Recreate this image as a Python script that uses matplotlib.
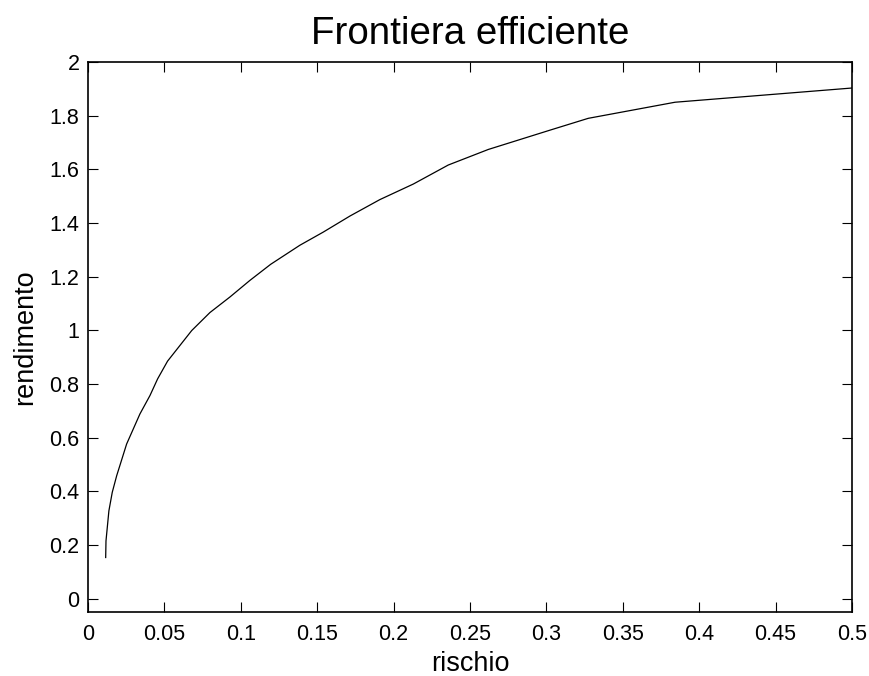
import matplotlib
matplotlib.use("Agg")
import matplotlib.pyplot as plt
import numpy as np

# punti della frontiera efficiente (rischio, rendimento)
rischio = [0.0116, 0.0118, 0.0137, 0.0159, 0.0188, 0.0253, 0.0340, 0.0406,
           0.0456, 0.0521, 0.0679, 0.0798, 0.0929, 0.1060, 0.1196, 0.1387,
           0.1540, 0.1715, 0.1910, 0.2129, 0.2358, 0.2620, 0.3024, 0.3274,
           0.3842, 0.5000]
rendimento = [0.153, 0.215, 0.327, 0.396, 0.458, 0.576, 0.688, 0.757,
              0.819, 0.885, 0.999, 1.066, 1.124, 1.186, 1.246, 1.317,
              1.366, 1.426, 1.487, 1.545, 1.616, 1.674, 1.746, 1.790,
              1.850, 1.903]

xticks = np.arange(0, 0.501, 0.05)
yticks = np.arange(0, 2.001, 0.2)

plt.rcParams['font.family'] = ['Liberation Sans', 'DejaVu Sans']

fig = plt.figure(figsize=(8.7, 6.76), dpi=100)
ax = fig.add_axes([0.1011, 0.0947, 0.8782, 0.8136])

ax.plot(rischio, rendimento, color="black", linewidth=0.9)

ax.set_xlim(0, 0.5)
ax.set_ylim(-0.05, 2)
ax.set_xticks(xticks)
ax.set_yticks(yticks)
ax.set_xticklabels(["%g" % round(v, 2) for v in xticks])
ax.set_yticklabels(["%g" % round(v, 1) for v in yticks])
ax.tick_params(axis="both", direction="in", length=7, width=0.8, labelsize=15.5,
               top=True, right=True)
ax.tick_params(axis="x", pad=9)
ax.tick_params(axis="y", pad=6)
for s in ax.spines.values():
    s.set_linewidth(1.2)

ax.set_xlabel("rischio", fontsize=19.5, labelpad=4)
ax.set_ylabel("rendimento", fontsize=19.5, labelpad=8)
ax.set_title("Frontiera efficiente", fontsize=27.7, pad=13)

fig.savefig("out.png", dpi=100, facecolor="white")
